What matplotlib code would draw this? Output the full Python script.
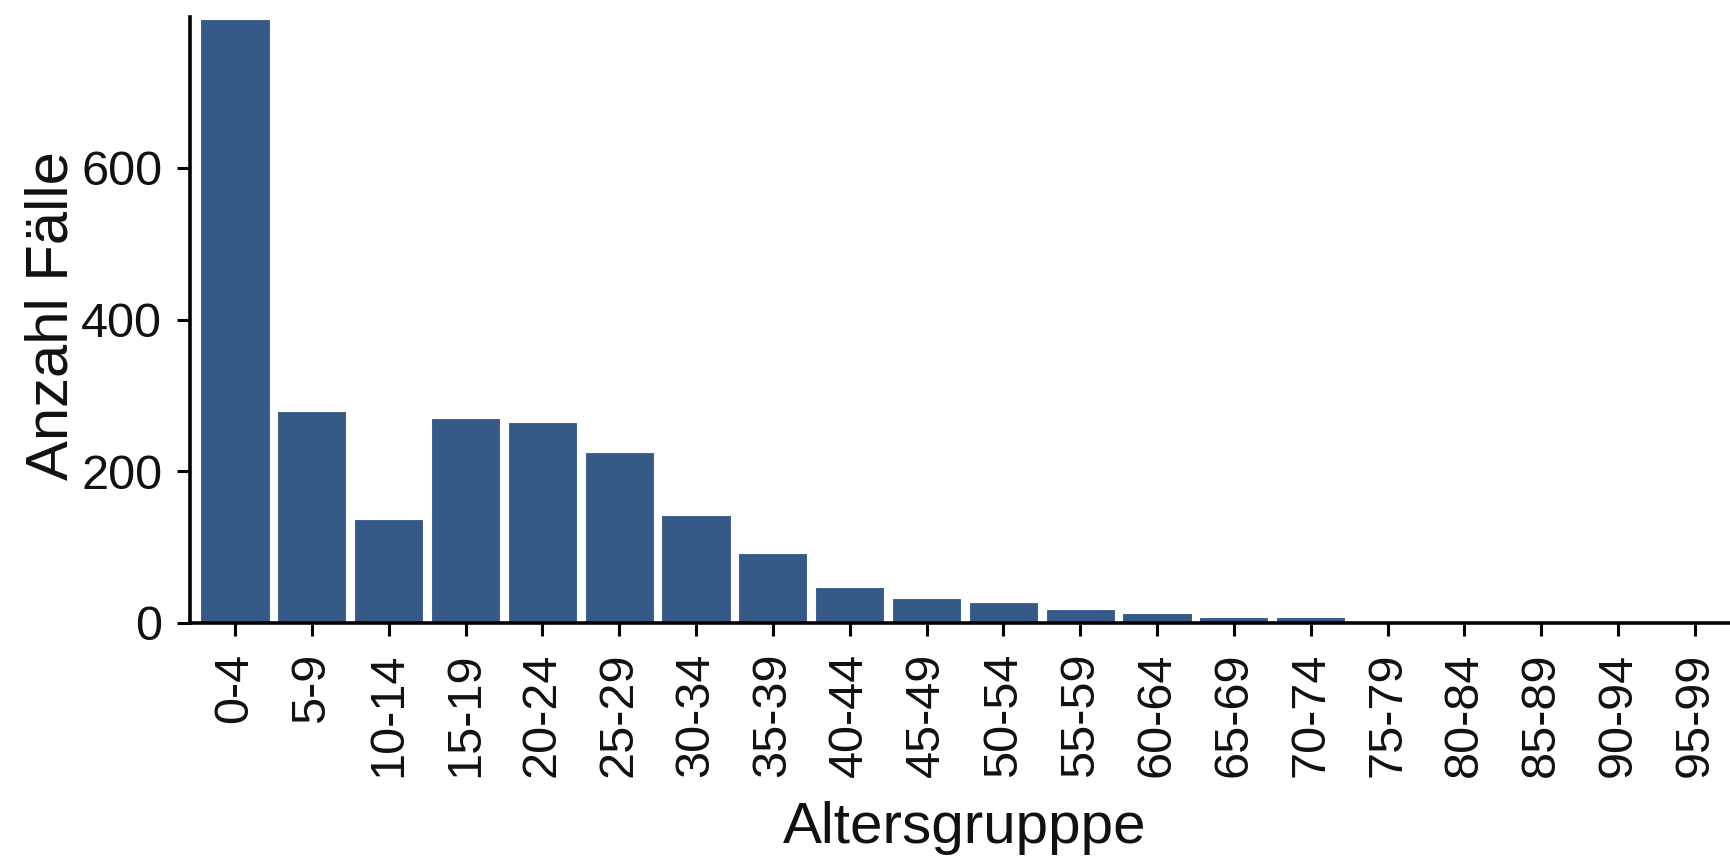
import matplotlib
matplotlib.use("Agg")
import matplotlib.pyplot as plt

age_groups = ["0-4", "5-9", "10-14", "15-19", "20-24", "25-29", "30-34", "35-39",
              "40-44", "45-49", "50-54", "55-59", "60-64", "65-69", "70-74",
              "75-79", "80-84", "85-89", "90-94", "95-99"]
cases = [796, 280, 137, 270, 265, 226, 143, 92, 48, 33, 28, 19, 13, 8, 8,
         0, 0, 0, 0, 0]
y_ticks = [0, 200, 400, 600]

plt.rcParams['font.family'] = ['Liberation Sans', 'DejaVu Sans']

W, H = 1731, 857
fig = plt.figure(figsize=(W / 100, H / 100), dpi=100)
left, right, top, bottom = 190, 1731, 17, 623
ax = fig.add_axes([left / W, 1 - bottom / H, (right - left) / W, (bottom - top) / H])

x = list(range(len(age_groups)))
ax.bar(x, cases, width=0.9, color="#365A87", edgecolor="white", linewidth=0.8)

ax.set_xlim(-0.586, 19.47)
ax.set_ylim(0, 799)
ax.set_xticks(x)
ax.set_xticklabels(age_groups, rotation=90, va="top", ha="center")
ax.set_yticks(y_ticks)

for s in ["top", "right"]:
    ax.spines[s].set_visible(False)
for s in ["left", "bottom"]:
    ax.spines[s].set_linewidth(2.6)
    ax.spines[s].set_color("black")

ax.tick_params(axis="both", length=9.4, width=2.2, color="black",
               labelsize=35, labelcolor="#111111")
ax.tick_params(axis="y", pad=10.5)
ax.tick_params(axis="x", pad=12)

ax.set_xlabel("Altersgrupppe", fontsize=42, va="baseline", color="#111111")
ax.xaxis.set_label_coords((965 - left) / (right - left), (bottom - 843) / (bottom - top))
ax.set_ylabel("Anzahl Fälle", fontsize=43, va="baseline", color="#111111")
ax.yaxis.set_label_coords((68 - left) / (right - left), (bottom - 316) / (bottom - top))

fig.savefig("out.png", dpi=100, facecolor="white")
